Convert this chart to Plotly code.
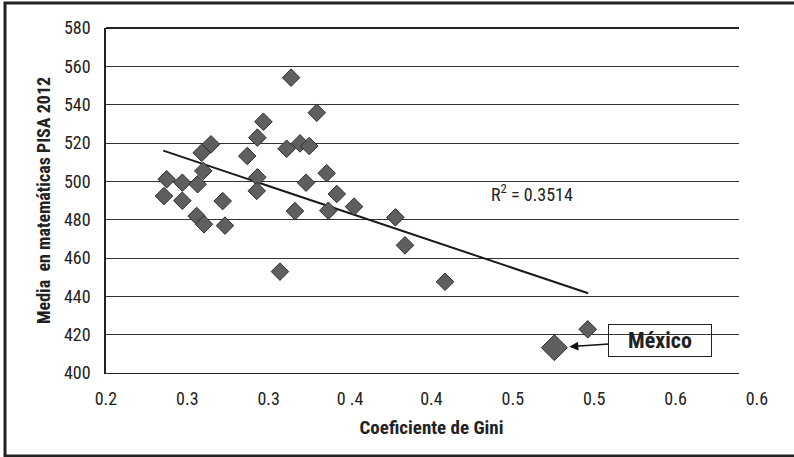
import plotly.graph_objects as go

# ---- data ----
gini = [0.2356, 0.2373, 0.2469, 0.2469, 0.2563, 0.2557, 0.2602, 0.2598, 0.2588, 0.2645,
        0.2717, 0.2731, 0.2868, 0.2930, 0.2967, 0.2930, 0.2926, 0.3069, 0.3110, 0.3192,
        0.3249, 0.3295, 0.3161, 0.3229, 0.3356, 0.3418, 0.3366, 0.3524, 0.3778, 0.3837,
        0.4083, 0.3137, 0.4960]
pisa = [492.3, 501.1, 499.3, 489.9, 498.5, 481.9, 477.6, 505.4, 514.9, 519.3,
        489.7, 476.9, 513.2, 522.8, 531.1, 502.1, 495.0, 452.9, 517.0, 519.8,
        518.4, 535.8, 484.5, 499.3, 504.2, 493.4, 484.7, 486.8, 481.2, 466.6,
        447.6, 554.1, 422.8]
mexico_gini = [0.4755]
mexico_pisa = [413.2]
trend_gini = [0.2352, 0.4963]
trend_pisa = [516.0, 441.6]
r2_text = "R<sup>2</sup> = 0.3514"
x_tickvals = [0.2, 0.25, 0.3, 0.35, 0.4, 0.45, 0.5, 0.55, 0.6]
x_ticktext = ["0.2", "0.3", "0.3", "0 .4", "0.4", "0.5", "0.5", "0.6", "0.6"]
y_tickvals = [400, 420, 440, 460, 480, 500, 520, 540, 560, 580]

FONT = "Roboto Condensed, Liberation Sans Narrow, DejaVu Sans Condensed, Roboto, sans-serif"
W, H = 794, 457
L, R, T, B = 106, 37, 28, 84
plot_w = W - L - R          # 651 px -> labels span
data_w = 633                # data/grid region width
x_per = plot_w / 0.4
dom_main = data_w / plot_w
x_max_main = 0.2 + data_w / x_per

fig = go.Figure()

# invisible trace carrying the label axis (added first so it sits underneath)
fig.add_trace(go.Scatter(x=[0.2, 0.6], y=[400, 580], xaxis="x2", yaxis="y2",
                         mode="markers", marker=dict(opacity=0), showlegend=False,
                         hoverinfo="skip"))

fig.add_trace(go.Scatter(
    x=trend_gini, y=trend_pisa, mode="lines",
    line=dict(color="#1a1a1a", width=2), showlegend=False, hoverinfo="skip"))

fig.add_trace(go.Scatter(
    x=gini, y=pisa, mode="markers",
    marker=dict(symbol="diamond", size=13.5, color="#5f5f5f",
                line=dict(color="#2e2e2e", width=1)),
    showlegend=False))

fig.add_trace(go.Scatter(
    x=mexico_gini, y=mexico_pisa, mode="markers",
    marker=dict(symbol="diamond", size=20, color="#5f5f5f",
                line=dict(color="#2e2e2e", width=1)),
    showlegend=False))

fig.update_layout(
    width=W, height=H,
    margin=dict(l=L, r=R, t=T, b=B),
    paper_bgcolor="white", plot_bgcolor="rgba(0,0,0,0)",
    font=dict(family=FONT, size=18, color="#222"),
    xaxis=dict(domain=[0, dom_main], range=[0.2, x_max_main],
               showgrid=False, zeroline=False, showticklabels=False,
               showline=True, linecolor="#222", linewidth=1.3, ticks=""),
    xaxis2=dict(domain=[0, 1], range=[0.2, 0.6], anchor="y2",
                tickvals=x_tickvals, ticktext=x_ticktext,
                showgrid=False, zeroline=False, showline=False, ticks="",
                ticklabelstandoff=13,
                tickfont=dict(family=FONT, size=18, color="#222"),
                title=dict(text="<b>Coeficiente de Gini</b>",
                           font=dict(family=FONT, size=19, color="#222"),
                           standoff=12)),
    yaxis=dict(range=[400, 580], tickvals=y_tickvals,
               showgrid=True, gridcolor="#333", gridwidth=1,
               zeroline=False, showline=True, linecolor="#222", linewidth=1.5,
               ticks="", ticklabelstandoff=10,
               tickfont=dict(family=FONT, size=18, color="#222"),
               title=dict(text="<b>Media  en matemáticas PISA 2012</b>",
                          font=dict(family=FONT, size=18, color="#222"),
                          standoff=9)),
    yaxis2=dict(range=[400, 580], overlaying="y", visible=False,
                showgrid=False),
)

# top gridline (580, at the range edge)
fig.add_shape(type="line", xref="paper", yref="paper", x0=0, x1=dom_main,
              y0=1, y1=1, layer="above", line=dict(color="#222", width=2))

fig.add_annotation(x=0.4616, y=493.9, text=r2_text, showarrow=False,
                   font=dict(family=FONT, size=18, color="#222"))

fig.add_annotation(x=mexico_gini[0], y=mexico_pisa[0], text="<b>México</b>",
                   showarrow=True, arrowhead=2, arrowsize=1.2, arrowwidth=1.5,
                   arrowcolor="#111", ax=106, ay=-7, standoff=15,
                   width=100, height=29, bordercolor="#222", borderwidth=1,
                   font=dict(family=FONT, size=22, color="#222"))

# outer frame
fig.add_shape(type="rect", xref="paper", yref="paper",
              x0=(5 - L) / plot_w, x1=(W + 10 - L) / plot_w,
              y0=-(456 - (H - B)) / (H - T - B), y1=((H - B) - 3) / (H - T - B),
              line=dict(color="#222", width=3))

fig.write_html("out.html")
